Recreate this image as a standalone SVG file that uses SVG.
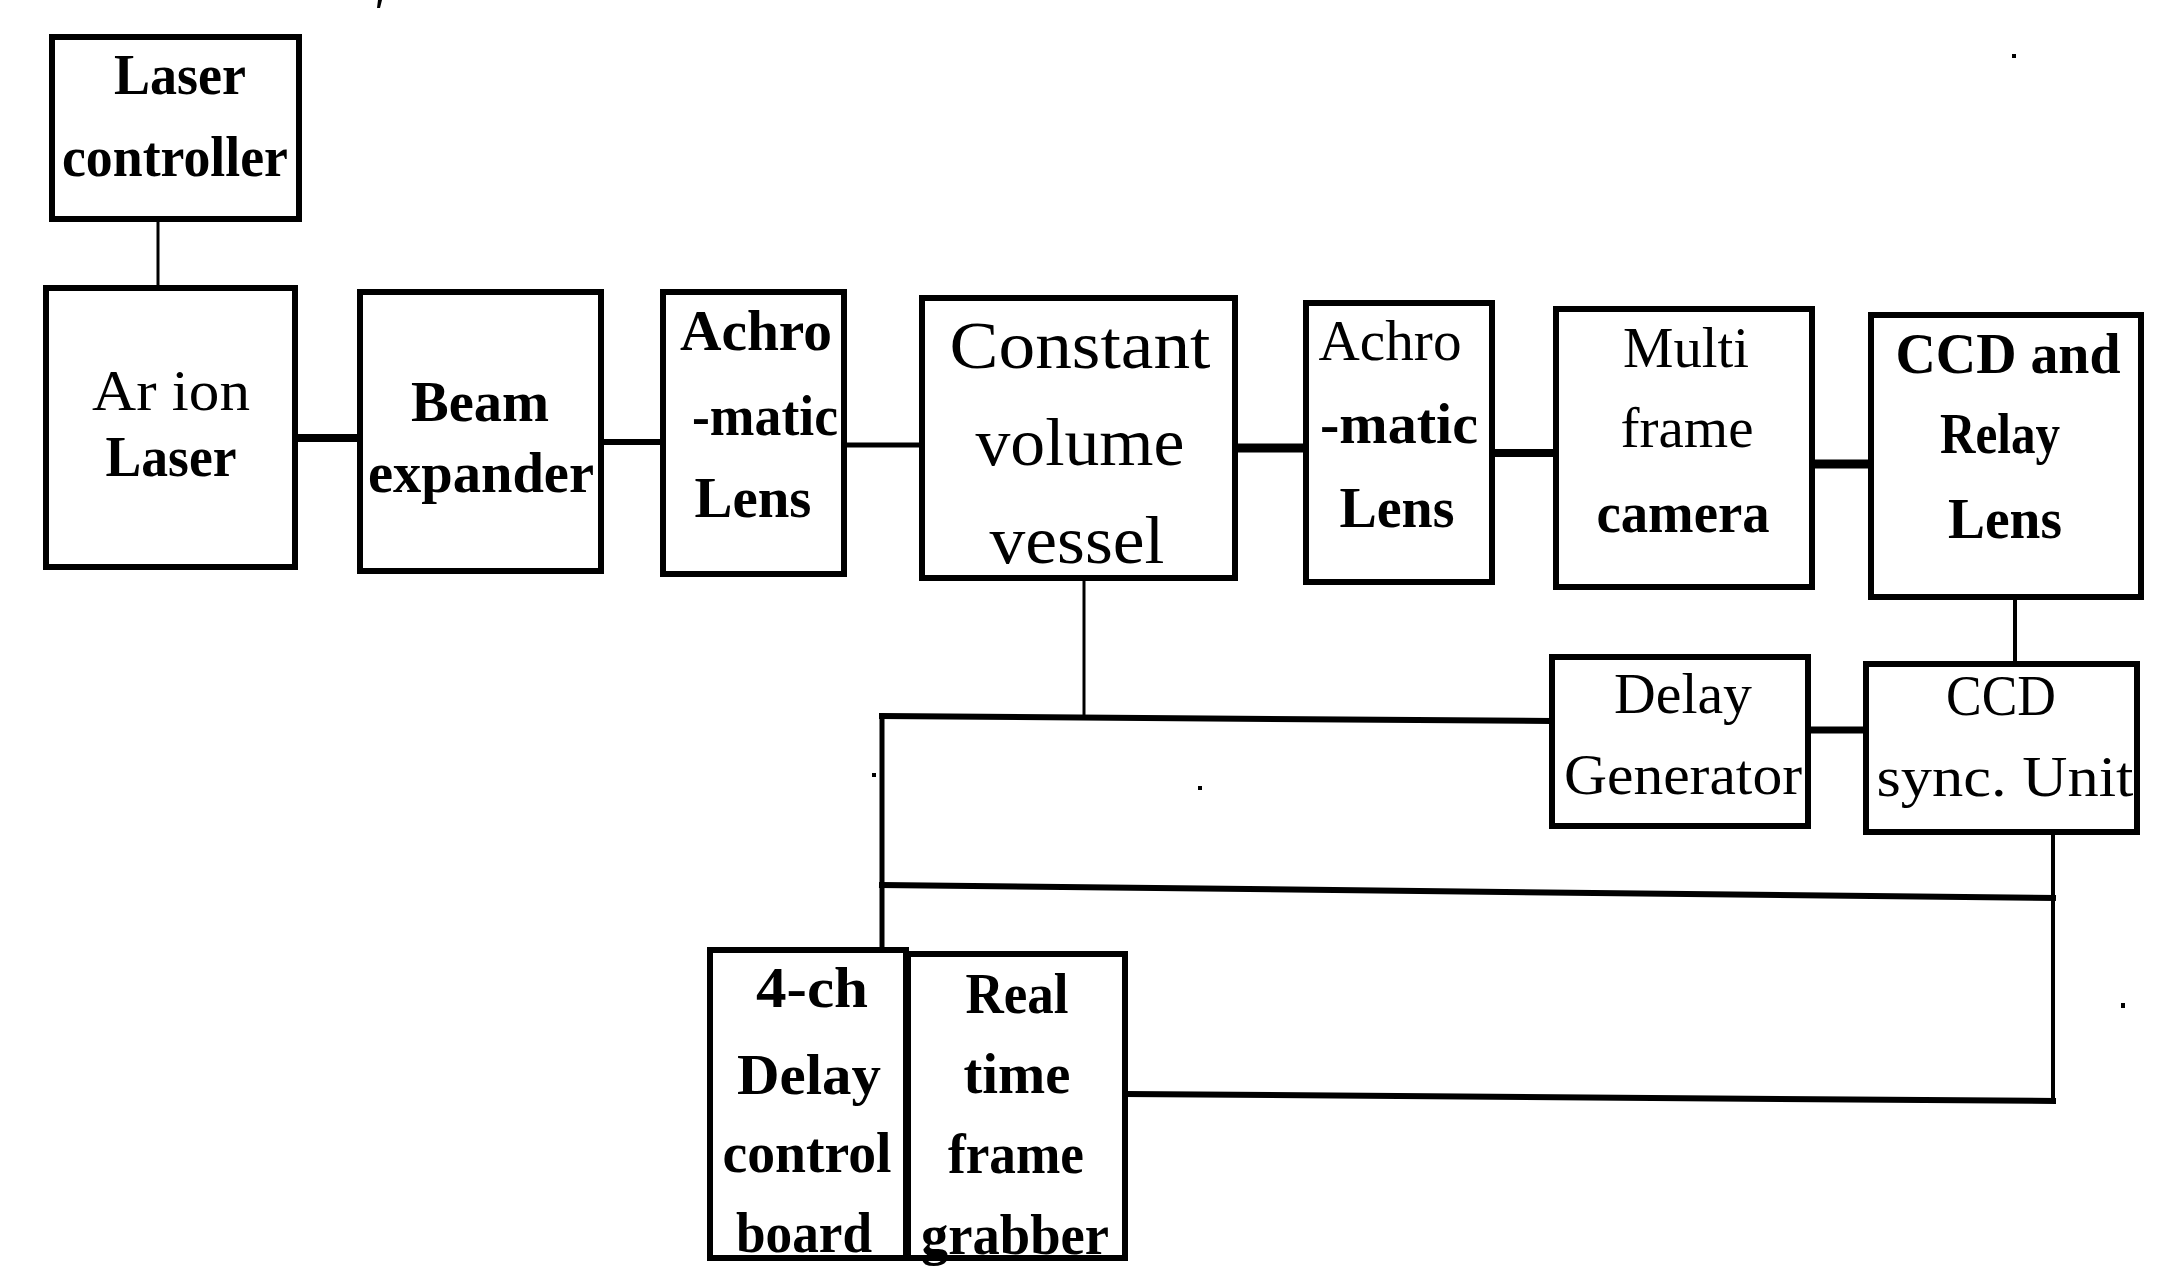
<svg xmlns="http://www.w3.org/2000/svg" width="2183" height="1267" viewBox="0 0 2183 1267">
<style>
.box{fill:#fff;stroke:#000;stroke-width:6}
.t{font-family:"Liberation Serif","Times New Roman",serif;font-size:56px;text-anchor:middle;fill:#000}
.b{font-weight:bold}
.big{font-size:68px}
.c{stroke:#000;fill:none;stroke-linecap:square}
.speck{fill:#000}
</style>
<rect width="2183" height="1267" fill="#fff"/>
<g id="specks">
<path class="speck" d="M378 0h4l-2 8h-3z"/>
<rect class="speck" x="2012" y="54" width="4" height="4"/>
<rect class="speck" x="872" y="773" width="4" height="4"/>
<rect class="speck" x="1198" y="786" width="4" height="4"/>
<rect class="speck" x="2121" y="1003" width="4" height="5"/>
</g>
<g id="connectors">
<line class="c" x1="158" y1="222" x2="158" y2="285" stroke-width="3"/>
<line class="c" x1="298" y1="438" x2="357" y2="438" stroke-width="8"/>
<line class="c" x1="603" y1="442" x2="660" y2="442" stroke-width="6"/>
<line class="c" x1="847" y1="445" x2="919" y2="445" stroke-width="5"/>
<line class="c" x1="1238" y1="448" x2="1303" y2="448" stroke-width="9"/>
<line class="c" x1="1495" y1="453" x2="1553" y2="453" stroke-width="8"/>
<line class="c" x1="1815" y1="464" x2="1868" y2="464" stroke-width="9"/>
<line class="c" x1="2015" y1="600" x2="2015" y2="664" stroke-width="4"/>
<line class="c" x1="1811" y1="730" x2="1863" y2="730" stroke-width="7"/>
<line class="c" x1="1084" y1="582" x2="1084" y2="716" stroke-width="3"/>
<line class="c" x1="882" y1="716" x2="1549" y2="721" stroke-width="6"/>
<line class="c" x1="882" y1="716" x2="882" y2="950" stroke-width="5"/>
<line class="c" x1="882" y1="885" x2="2053" y2="898" stroke-width="6"/>
<line class="c" x1="2053" y1="836" x2="2053" y2="1101" stroke-width="4"/>
<line class="c" x1="1127" y1="1094" x2="2053" y2="1101" stroke-width="6"/>
</g>
<g id="laser-controller">
<rect class="box" x="52" y="37" width="247" height="182"/>
<text class="t b" x="180" y="94" textLength="132" lengthAdjust="spacingAndGlyphs">Laser</text>
<text class="t b" x="175" y="176" textLength="226" lengthAdjust="spacingAndGlyphs">controller</text>
</g>
<g id="ar-ion-laser">
<rect class="box" x="46" y="288" width="249" height="279"/>
<text class="t" x="171" y="410" textLength="158" lengthAdjust="spacingAndGlyphs">Ar ion</text>
<text class="t b" x="171" y="476" textLength="131" lengthAdjust="spacingAndGlyphs">Laser</text>
</g>
<g id="beam-expander">
<rect class="box" x="360" y="292" width="241" height="279"/>
<text class="t b" x="480" y="421" textLength="138" lengthAdjust="spacingAndGlyphs">Beam</text>
<text class="t b" x="481" y="492" textLength="226" lengthAdjust="spacingAndGlyphs">expander</text>
</g>
<g id="achromatic-lens-1">
<rect class="box" x="663" y="292" width="181" height="282"/>
<text class="t b" x="756" y="350" textLength="152" lengthAdjust="spacingAndGlyphs">Achro</text>
<text class="t b" x="765" y="435" textLength="146" lengthAdjust="spacingAndGlyphs">-matic</text>
<text class="t b" x="753" y="517" textLength="117" lengthAdjust="spacingAndGlyphs">Lens</text>
</g>
<g id="constant-volume-vessel">
<rect class="box" x="922" y="298" width="313" height="280"/>
<text class="t big" x="1080" y="368" textLength="261" lengthAdjust="spacingAndGlyphs">Constant</text>
<text class="t big" x="1080" y="465" textLength="209" lengthAdjust="spacingAndGlyphs">volume</text>
<text class="t big" x="1077" y="563" textLength="175" lengthAdjust="spacingAndGlyphs">vessel</text>
</g>
<g id="achromatic-lens-2">
<rect class="box" x="1306" y="303" width="186" height="279"/>
<text class="t" x="1390" y="360" textLength="143" lengthAdjust="spacingAndGlyphs">Achro</text>
<text class="t b" x="1399" y="443" textLength="158" lengthAdjust="spacingAndGlyphs">-matic</text>
<text class="t b" x="1397" y="527" textLength="115" lengthAdjust="spacingAndGlyphs">Lens</text>
</g>
<g id="multi-frame-camera">
<rect class="box" x="1556" y="309" width="256" height="278"/>
<text class="t" x="1686" y="367" textLength="126" lengthAdjust="spacingAndGlyphs">Multi</text>
<text class="t" x="1687" y="447" textLength="133" lengthAdjust="spacingAndGlyphs">frame</text>
<text class="t b" x="1683" y="532" textLength="173" lengthAdjust="spacingAndGlyphs">camera</text>
</g>
<g id="ccd-relay-lens">
<rect class="box" x="1871" y="315" width="270" height="282"/>
<text class="t b" x="2008" y="373" textLength="225" lengthAdjust="spacingAndGlyphs">CCD and</text>
<text class="t b" x="2000" y="453" textLength="120" lengthAdjust="spacingAndGlyphs">Relay</text>
<text class="t b" x="2005" y="538" textLength="114" lengthAdjust="spacingAndGlyphs">Lens</text>
</g>
<g id="delay-generator">
<rect class="box" x="1552" y="657" width="256" height="169"/>
<text class="t" x="1683" y="713" textLength="138" lengthAdjust="spacingAndGlyphs">Delay</text>
<text class="t" x="1683" y="794" textLength="238" lengthAdjust="spacingAndGlyphs">Generator</text>
</g>
<g id="ccd-sync-unit">
<rect class="box" x="1866" y="664" width="271" height="168"/>
<text class="t" x="2001" y="715" textLength="110" lengthAdjust="spacingAndGlyphs">CCD</text>
<text class="t" x="2005" y="796" textLength="257" lengthAdjust="spacingAndGlyphs">sync. Unit</text>
</g>
<g id="delay-control-board">
<rect class="box" x="710" y="950" width="196" height="308"/>
<text class="t b" x="812" y="1007" textLength="112" lengthAdjust="spacingAndGlyphs">4-ch</text>
<text class="t b" x="809" y="1094" textLength="144" lengthAdjust="spacingAndGlyphs">Delay</text>
<text class="t b" x="807" y="1172" textLength="169" lengthAdjust="spacingAndGlyphs">control</text>
<text class="t b" x="804" y="1252" textLength="136" lengthAdjust="spacingAndGlyphs">board</text>
</g>
<g id="frame-grabber">
<rect class="box" x="908" y="954" width="217" height="304"/>
<text class="t b" x="1017" y="1013" textLength="103" lengthAdjust="spacingAndGlyphs">Real</text>
<text class="t b" x="1017" y="1093" textLength="107" lengthAdjust="spacingAndGlyphs">time</text>
<text class="t b" x="1016" y="1173" textLength="136" lengthAdjust="spacingAndGlyphs">frame</text>
<text class="t b" x="1015" y="1254" textLength="188" lengthAdjust="spacingAndGlyphs">grabber</text>
</g>
</svg>
